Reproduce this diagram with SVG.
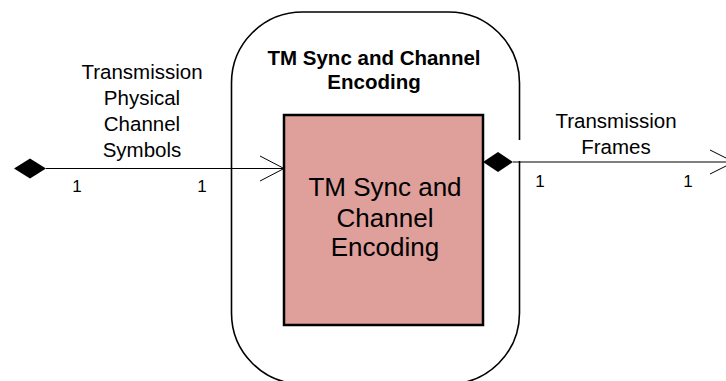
<svg xmlns="http://www.w3.org/2000/svg" width="726" height="381" viewBox="0 0 726 381">
  <style>
    text { font-family: "Liberation Sans", Arial, sans-serif; fill: #000; text-anchor: middle; }
    .lbl { font-size: 20.5px; }
    .mult { font-size: 17px; }
    .title { font-size: 20.5px; font-weight: bold; }
    .inner { font-size: 26px; }
    .conn { stroke: #000; stroke-width: 1; fill: none; }
    .diamond { fill: #000; stroke: none; }
  </style>
  <rect width="726" height="381" fill="#fff"/>
  <g id="container">
    <rect x="231.5" y="12" width="288" height="372" rx="71" ry="71" fill="#fff" stroke="#000" stroke-width="1.6"/>
    <rect x="517" y="140" width="5" height="21" fill="#fff"/>
    <text class="title" x="374" y="65">TM Sync and Channel</text>
    <text class="title" x="374" y="89">Encoding</text>
  </g>
  <g id="block">
    <rect x="284" y="115" width="199" height="210" fill="#DF9F9B" stroke="#000" stroke-width="2.5"/>
    <text class="inner" x="385" y="196">TM Sync and</text>
    <text class="inner" x="385" y="226.5">Channel</text>
    <text class="inner" x="385" y="256">Encoding</text>
  </g>
  <g id="connectors">
    <g id="conn-in">
      <polygon class="diamond" points="14,168.5 30,158.5 46,168.5 30,178.5"/>
      <line class="conn" x1="46" y1="168.5" x2="284" y2="168.5"/>
      <polyline class="conn" points="260,156 284,168.5 260,181"/>
      <text class="lbl" x="142" y="79">Transmission</text>
      <text class="lbl" x="142" y="105">Physical</text>
      <text class="lbl" x="142" y="131">Channel</text>
      <text class="lbl" x="142" y="157">Symbols</text>
      <text class="mult" x="77" y="192">1</text>
      <text class="mult" x="202" y="192">1</text>
    </g>
    <g id="conn-out">
      <polygon class="diamond" points="483,162 498,152 513,162 498,172"/>
      <line class="conn" x1="513" y1="162" x2="734" y2="162"/>
      <polyline class="conn" points="710,150 734,162 710,174"/>
      <text class="lbl" x="616" y="128">Transmission</text>
      <text class="lbl" x="616" y="154">Frames</text>
      <text class="mult" x="540" y="187">1</text>
      <text class="mult" x="688" y="187">1</text>
    </g>
  </g>
</svg>
